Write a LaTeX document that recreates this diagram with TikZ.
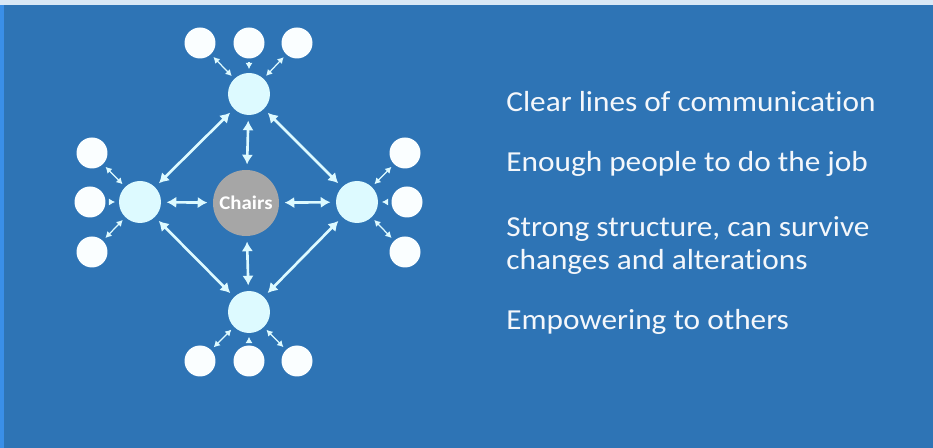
\documentclass[tikz,border=0pt]{standalone}
\usepackage{fontspec}
\setmainfont[FakeStretch=1.08, Ligatures=NoCommon]{Carlito}
\usetikzlibrary{arrows.meta}
\definecolor{slideblue}{HTML}{2E74B5}
\definecolor{edgeblue}{HTML}{3A8FE8}
\definecolor{paleblue}{HTML}{D9E8F6}
\definecolor{hubfill}{HTML}{DDFAFF}
\definecolor{leaffill}{HTML}{FAFEFF}
\definecolor{chairgray}{HTML}{A6A6A6}
\definecolor{textwhite}{HTML}{F4F7FB}

\begin{document}
\begin{tikzpicture}[x=0.02cm, y=-0.02cm,
    hub/.style={circle, fill=hubfill, minimum size=0.84cm, inner sep=0pt},
    leaf/.style={circle, fill=leaffill, minimum size=0.62cm, inner sep=0pt},
    link/.style={{Latex[length=5.5pt,width=6.5pt]}-{Latex[length=5.5pt,width=6.5pt]}, draw=hubfill, line width=1.5pt, shorten >=3pt, shorten <=3pt},
    twig/.style={draw=hubfill, line width=0.7pt, shorten >=2pt, shorten <=2pt},
    item/.style={anchor=base west, inner sep=0pt, text=textwhite, font=\fontsize{16.5pt}{19pt}\selectfont}]

    % background
    \useasboundingbox (0,0) rectangle (933,448);
    \fill[paleblue] (0,0) rectangle (933,448);
    \fill[edgeblue] (0,5) rectangle (5,448);
    \fill[slideblue] (4,5) rectangle (933,448);

    % chairs
    \node[circle, fill=chairgray, minimum size=1.32cm, inner sep=0pt,
      text=white, font=\bfseries\fontsize{11pt}{12pt}\selectfont] (chairs) at (246,203) {Chairs};

    % hubs
    \node[hub] (top) at (249,94) {};
    \node[hub] (left) at (140,202) {};
    \node[hub] (right) at (357,202) {};
    \node[hub] (bottom) at (249,312) {};

    % leaves
    \node[leaf] (top1) at (200,43) {};
    \node[leaf] (top2) at (249,43) {};
    \node[leaf] (top3) at (297,43) {};
    \node[leaf] (left1) at (92,153) {};
    \node[leaf] (left2) at (90,202) {};
    \node[leaf] (left3) at (92,252) {};
    \node[leaf] (right1) at (405,153) {};
    \node[leaf] (right2) at (407,202) {};
    \node[leaf] (right3) at (405,252) {};
    \node[leaf] (bottom1) at (200,361) {};
    \node[leaf] (bottom2) at (249,361) {};
    \node[leaf] (bottom3) at (297,361) {};

    % main links
    \draw[link] (top) -- (left);
    \draw[link] (top) -- (right);
    \draw[link] (bottom) -- (left);
    \draw[link] (bottom) -- (right);
    \draw[link] (top) -- (chairs);
    \draw[link] (bottom) -- (chairs);
    \draw[link] (left) -- (chairs);
    \draw[link] (right) -- (chairs);

    % leaf links
    \tikzset{>={Latex[length=3.5pt,width=4pt]}}
    \draw[twig, <->] (top1) -- (top);
    \draw[twig, ->] (top2) -- (top);
    \draw[twig, <->] (top3) -- (top);
    \draw[twig, <->] (left1) -- (left);
    \draw[twig, ->] (left2) -- (left);
    \draw[twig, <->] (left3) -- (left);
    \draw[twig, <->] (right1) -- (right);
    \draw[twig, ->] (right2) -- (right);
    \draw[twig, <->] (right3) -- (right);
    \draw[twig, <->] (bottom1) -- (bottom);
    \draw[twig, ->] (bottom2) -- (bottom);
    \draw[twig, <->] (bottom3) -- (bottom);

    % text
    \node[item] (clear) at (506,112) {Clear lines of communication};
    \node[item] (enough) at (506,172) {Enough people to do the job};
    \node[item] (strong) at (506,237) {Strong structure, can survive};
    \node[item] (changes) at (506,270) {changes and alterations};
    \node[item] (empower) at (506,330) {Empowering to others};

\end{tikzpicture}
\end{document}
